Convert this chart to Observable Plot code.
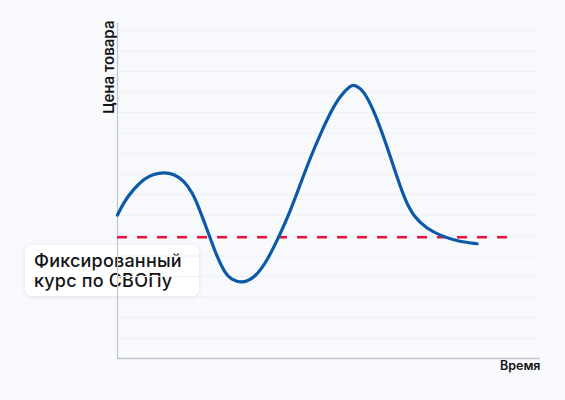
<!DOCTYPE html>
<html>
<head>
<meta charset="utf-8">
<script src="https://cdn.jsdelivr.net/npm/d3@7"></script>
<script src="https://cdn.jsdelivr.net/npm/@observablehq/plot@0.6"></script>
<style>
  html, body { margin: 0; padding: 0; background: #f8f9fd; }
  #wrap { position: relative; width: 565px; height: 400px; }
  #box {
    position: absolute; left: 25px; top: 245px; width: 174px; height: 51px;
    background: #ffffff; border-radius: 6px;
    box-shadow: 0 1px 4px rgba(30, 40, 80, 0.10);
    z-index: 0;
  }
  #box div {
    position: absolute; left: 9px; top: 6px;
    font-family: Inter, "Noto Sans", sans-serif; font-weight: 500;
    font-size: 18px; line-height: 20px; color: #141414; letter-spacing: 0.2px;
  }
  #chart { position: absolute; left: 0; top: 0; z-index: 1; }
  #chart svg { background: transparent !important; }
</style>
</head>
<body>
<div id="wrap">
  <div id="box"><div>Фиксированный<br>курс по СВОПу</div></div>
  <div id="chart"></div>
</div>
<script>
// Price curve (time in arbitrary units 0..100, price in arbitrary units)
const time  = [0, 1.49, 3.85, 6.22, 8.58, 10.95, 13.31, 15.67, 17.66, 19.22, 20.8, 21.99, 23.57, 25.53, 26.71, 29.48, 32.62, 35.39, 38.13, 40.9, 43.26, 45.63, 47.99, 50.35, 52.72, 55.08, 56.03, 58.23, 60.59, 62.96, 65.32, 67.68, 70.05, 73.21, 76.36, 80.31, 85.04];
const price = [7.0, 7.63, 8.28, 8.77, 9.01, 9.09, 9.01, 8.69, 8.12, 7.38, 6.49, 5.84, 4.94, 4.13, 3.89, 3.65, 3.97, 4.78, 5.92, 7.22, 8.53, 9.82, 10.97, 12.02, 12.84, 13.32, 13.37, 13.08, 12.1, 10.8, 9.34, 7.87, 6.9, 6.33, 6.0, 5.72, 5.6];
const fixedRate = 5.92;
const fixedEnd = 92.2;
const gridTicks = [1, 2, 3, 4, 5, 6, 7, 8, 9, 10, 11, 12, 13, 14, 15, 16];
const yLabel = "Цена товара";
const xLabel = "Время";

const data = time.map((t, i) => ({t, p: price[i]}));

const chart = Plot.plot({
  width: 565,
  height: 400,
  marginLeft: 117,
  marginRight: 25,
  marginTop: 23,
  marginBottom: 42,
  style: {background: "transparent", fontFamily: "Inter, 'Noto Sans', sans-serif"},
  x: {domain: [0, 100], axis: null},
  y: {domain: [0, 16.35], axis: null},
  marks: [
    Plot.gridY(gridTicks, {stroke: "#eef0f6", strokeOpacity: 1, strokeWidth: 1}),
    Plot.ruleY([0], {stroke: "#c3c6cb", strokeWidth: 1.5}),
    Plot.ruleX([0], {y1: 0, y2: 16.35, stroke: "#c3c6cb", strokeWidth: 1.2}),
    Plot.ruleY([fixedRate], {x1: 0, x2: fixedEnd, stroke: "#e8133c", strokeWidth: 2.5, strokeDasharray: "10,10"}),
    Plot.line(data, {x: "t", y: "p", curve: "basis", stroke: "#0b5aa7", strokeWidth: 3.2, strokeLinecap: "round"}),
    Plot.text([yLabel], {frameAnchor: "top-left", dx: -14, dy: -3, rotate: -90, textAnchor: "end", fontSize: 15, fontWeight: 600, fill: "#141414"}),
    Plot.text([xLabel], {frameAnchor: "bottom-right", dy: 11, textAnchor: "end", fontSize: 12.5, fontWeight: 600, fill: "#141414"})
  ]
});
document.getElementById("chart").appendChild(chart);
</script>
</body>
</html>
